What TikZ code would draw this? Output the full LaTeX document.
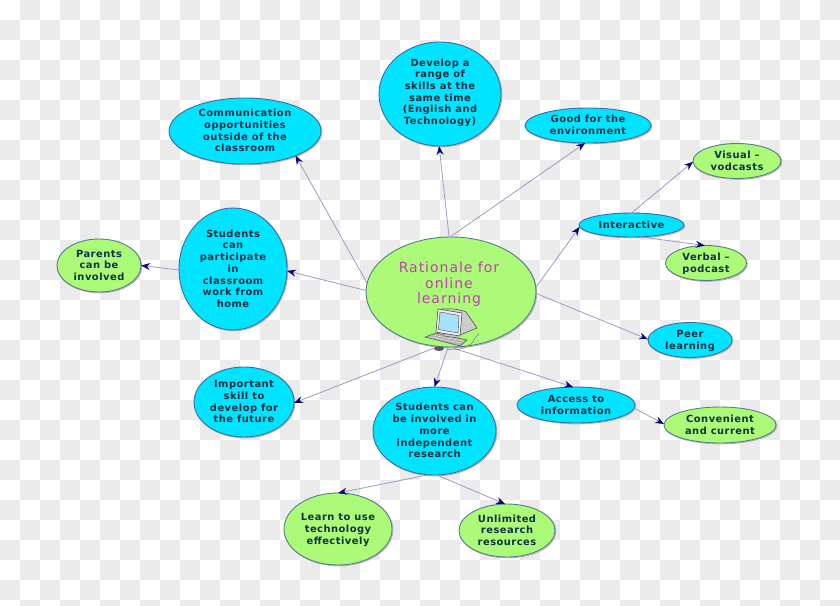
\documentclass[tikz,border=0pt]{standalone}
\usepackage{fontspec}
\usetikzlibrary{shapes.geometric,arrows.meta}
\setmainfont{DejaVu Sans}[LetterSpace=5]
\newfontfamily\centrefont{DejaVu Sans}[LetterSpace=7]
\definecolor{chk}{HTML}{EBEBEB}
\definecolor{cyanfill}{HTML}{00E4FF}
\definecolor{greenfill}{HTML}{ABFA78}
\definecolor{edgeblue}{HTML}{3A6CA8}
\definecolor{edgegreen}{HTML}{557E8A}
\definecolor{linecol}{HTML}{9C9CC6}
\definecolor{tipcol}{HTML}{0A0A78}
\definecolor{inktext}{HTML}{123244}
\definecolor{pinktext}{HTML}{C23FB2}
\newcommand{\lbl}[2][0pt]{\makebox[0pt]{\raisebox{\dimexpr-2.5pt+#1\relax}[0pt][0pt]{$\vcenter{\hbox{\begin{tabular}{@{}c@{}}#2\end{tabular}}}$}}}
\tikzset{
  bubble/.style={ellipse,inner sep=0pt,outer sep=0pt,line width=0.9pt,text=inktext,
    font=\bfseries\fontsize{9.9}{11.7}\selectfont,
    preaction={draw=gray!60,line width=1pt,transform canvas={xshift=0.8pt,yshift=-0.8pt}}},
  cyanb/.style={bubble,fill=cyanfill,draw=edgeblue},
  greenb/.style={bubble,fill=greenfill,draw=edgegreen},
  link/.style={draw=linecol,line width=0.8pt,-{Stealth[length=9pt,width=7pt,color=tipcol]}},
  sz/.style 2 args={minimum width=2*#1 pt,minimum height=2*#2 pt}
}
\begin{document}
\begin{tikzpicture}[x=1pt,y=-1pt]
\useasboundingbox (0,0) rectangle (840,605);
\begin{scope}
\clip (0,0) rectangle (840,605);
\foreach \i in {0,...,41}{\foreach \j in {0,...,30}{
  \pgfmathparse{int(mod(\i+\j,2))}
  \ifnum\pgfmathresult=1 \fill[chk] (\i*20,\j*20) rectangle ++(20,20);\fi
}}
\end{scope}
% nodes
\node[greenb,sz={85}{55},font=\centrefont\fontsize{14}{15.8}\selectfont,text=pinktext] (c) at (451,292) {\makebox[0pt]{\kern-4pt\lbl[6pt]{Rationale for\\online\\learning}}};
\node[cyanb,sz={76}{33}] (comm) at (245,131) {\lbl[-1pt]{Communication\\opportunities\\outside of the\\classroom}};
\node[cyanb,sz={61}{52}] (dev) at (440,94) {\lbl[1pt]{Develop a\\range of\\skills at the\\same time\\(English and\\Technology)}};
\node[cyanb,sz={63}{17.5}] (good) at (588,125.5) {\lbl[-1pt]{Good for the\\environment}};
\node[greenb,sz={44}{17.5}] (vis) at (737,161) {\lbl[-1pt]{Visual --\\vodcasts}};
\node[cyanb,sz={52.5}{12}] (inter) at (631.5,225) {\lbl[-1pt]{Interactive}};
\node[greenb,sz={40.5}{17.5}] (verb) at (706,263) {\lbl[-1pt]{Verbal --\\podcast}};
\node[cyanb,sz={42}{17.5}] (peer) at (690,340) {\lbl[-1pt]{Peer\\learning}};
\node[cyanb,sz={59}{18}] (acc) at (576,405) {\lbl[-1pt]{Access to\\information}};
\node[greenb,sz={56}{18}] (conv) at (720,425) {\lbl[-1pt]{Convenient\\and current}};
\node[cyanb,sz={61.5}{44}] (ind) at (434.5,431) {\lbl[-1pt]{Students can\\be involved in\\more\\independent\\research}};
\node[greenb,sz={48}{26.5}] (unl) at (507,530.5) {\lbl[-1pt]{Unlimited\\research\\resources}};
\node[greenb,sz={54}{36}] (learn) at (338,529) {\lbl[-1pt]{Learn to use\\technology\\effectively}};
\node[cyanb,sz={50}{35}] (imp) at (244,402) {\lbl[-1pt]{Important\\skill to\\develop for\\the future}};
\node[cyanb,sz={54}{61}] (part) at (233,269) {\lbl[-1pt]{Students\\can\\participate\\in\\classroom\\work from\\home}};
\node[greenb,sz={42}{26.5}] (par) at (99,265.5) {\lbl[-1pt]{Parents\\can be\\involved}};
% connectors
\draw[link] (c.92) -- (dev.-91);
\draw[link] (c.91) -- (good.-99);
\draw[link] (c.174) -- (comm.-26);
\draw[link] (c.179.5) -- (part.-2);
\draw[link] (part.181) -- (par.0);
\draw[link] (c.3) -- (inter.-178);
\draw[link] (inter.90) -- (vis.181);
\draw[link] (inter.-53) -- (verb.94);
\draw[link] (c.-1) -- (peer.179);
\draw[link] (c.-91) -- (acc.99);
\draw[link] (acc.-3) -- (conv.179);
\draw[link] (c.-93) -- (ind.90);
\draw[link] (c.-103) -- (imp.-1);
\draw[link] (ind.-98) -- (learn.90);
\draw[link] (ind.-87) -- (unl.94);
% computer icon
\draw[gray!80!black,line width=0.4pt] (447,349) .. controls (458,352) and (472,346) .. (474,340) .. controls (475,335) and (480,336) .. (478,333);
\fill[black!65] (439,348.5) ellipse (5 and 2.5);
\fill[gray!60,draw=gray!50!black,line width=0.4pt] (425,337) -- (436,333) -- (467,340) -- (460,346) -- cycle;
\draw[white!80!gray,line width=0.5pt] (430,337) -- (461,343) (434,335.5) -- (464,341);
\fill[gray!45,draw=gray!50!black,line width=0.4pt] (444,333) -- (458,335) -- (458,338) -- (444,336) -- cycle;
\fill[gray!40,draw=gray!50!black,line width=0.5pt] (442,309) .. controls (452,308) and (462,310) .. (466,312) -- (477,328) -- (460,335) -- cycle;
\fill[gray!12,draw=gray!40!black,line width=0.5pt] (438,309) -- (462,313) -- (460,336) -- (436,332) -- cycle;
\fill[cyan!35!white,draw=gray!50!black,line width=0.4pt] (440,312) -- (459,315.5) -- (458,333) -- (438.5,329.5) -- cycle;
\end{tikzpicture}
\end{document}
